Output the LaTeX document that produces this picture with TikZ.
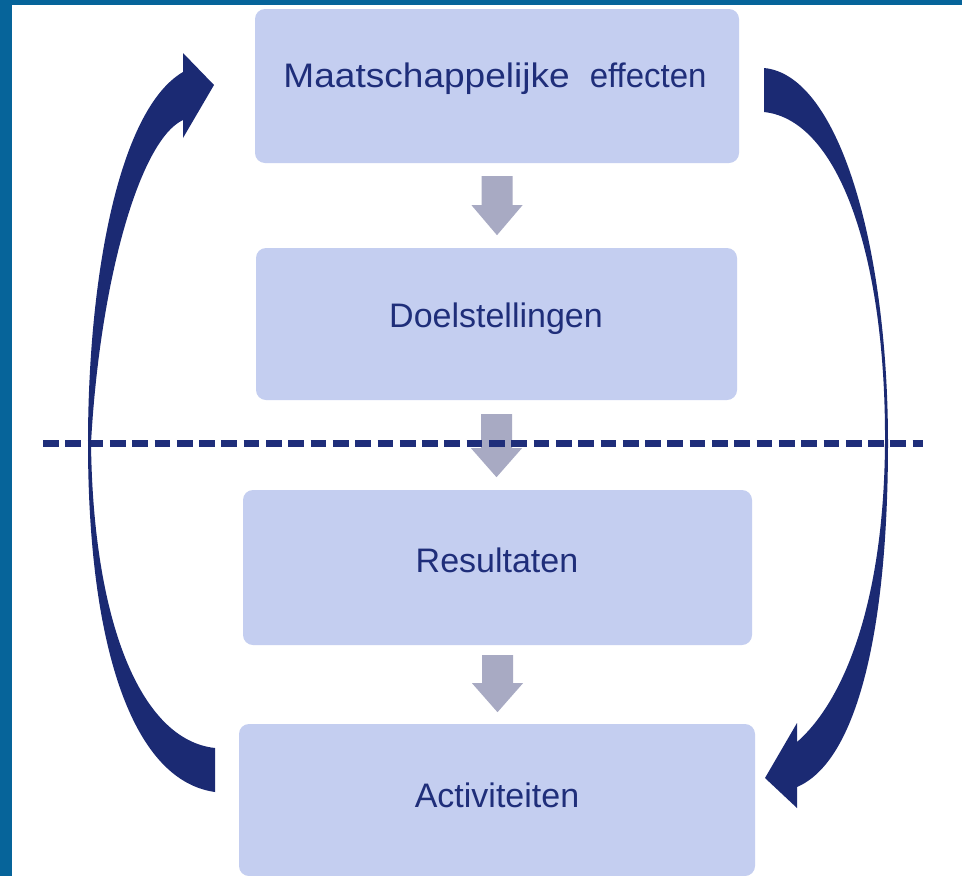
\documentclass[tikz,border=0pt]{standalone}
\usepackage{fontspec}
\setmainfont{Liberation Sans}
\usetikzlibrary{calc}
\definecolor{frameblue}{HTML}{06649A}
\definecolor{boxfill}{HTML}{C4CEF0}
\definecolor{navy}{HTML}{1B2A73}
\definecolor{txtnavy}{HTML}{1F2E7A}
\definecolor{grayarrow}{HTML}{A8AAC3}
\tikzset{
  box/.style={fill=boxfill, draw=none, rounded corners=10pt, inner sep=0pt},
  lbl/.style={text=txtnavy, font=\fontsize{34}{40}\selectfont, inner sep=0pt, anchor=base},
  bigarrow/.style={fill=navy, draw=none},
  dashline/.style={draw=txtnavy, line width=7pt, dash pattern=on 15.7pt off 6.6pt}
}
\newcommand{\grayarr}[4]{%
  \fill[grayarrow] ($(#1.south)+(-15.5,#2)$) -- ($(#1.south)+(15.5,#2)$) -- ($(#1.south)+(15.5,#3)$) -- ($(#1.south)+(25.5,#3)$) -- ($(#1.south)+(0,#4)$) -- ($(#1.south)+(-25.5,#3)$) -- ($(#1.south)+(-15.5,#3)$) -- cycle;}
\begin{document}
\begin{tikzpicture}[x=1pt,y=-1pt]
\useasboundingbox (0,0) rectangle (962,876);
\fill[white] (0,0) rectangle (962,876);
\fill[frameblue] (0,0) rectangle (962,5);
\fill[frameblue] (0,0) rectangle (12,876);

% boxes
\node[box, minimum width=484pt, minimum height=154pt] (b1) at (497,86) {};
\node[box, minimum width=481pt, minimum height=152pt] (b2) at (496.5,324) {};
\node[box, minimum width=509pt, minimum height=155pt] (b3) at (497.5,567.5) {};
\node[box, minimum width=516pt, minimum height=152pt] (b4) at (497,800) {};

% labels
\node[lbl] (t1) at (495,87) {\scalebox{1.09}[1]{Maatschappelijke}\hspace{20pt}\scalebox{0.97}[1]{effecten}};
\node[lbl] (t2) at (496,327) {Doelstellingen};
\node[lbl] (t3) at (497,572) {Resultaten};
\node[lbl] (t4) at (497,807) {Activiteiten};

% small gray arrows
\grayarr{b1}{13}{42}{72}
\grayarr{b2}{14}{48}{77}
\grayarr{b3}{10}{38}{67}

% dashed line
\coordinate (dl) at (43,443);
\coordinate (dr) at (923,443);
\draw[dashline] (dl) -- (dr);

% big curved arrows
\fill[bigarrow] (215,792) .. controls (130,780) and (88,640) .. (88,443)
  .. controls (88,280) and (118,110) .. (183,72) -- (183,53) -- (214,85) -- (183,138) -- (183,120)
  .. controls (140,140) and (100,280) .. (91,443)
  .. controls (93,620) and (140,740) .. (215,748) -- cycle;
\fill[bigarrow] (764,68) .. controls (840,75) and (888,250) .. (888,443)
  .. controls (888,620) and (860,760) .. (797,787) -- (797,808) -- (765,778) -- (797,723) -- (797,742)
  .. controls (845,700) and (884,600) .. (885,443)
  .. controls (886,260) and (840,120) .. (764,112) -- cycle;
\end{tikzpicture}
\end{document}
